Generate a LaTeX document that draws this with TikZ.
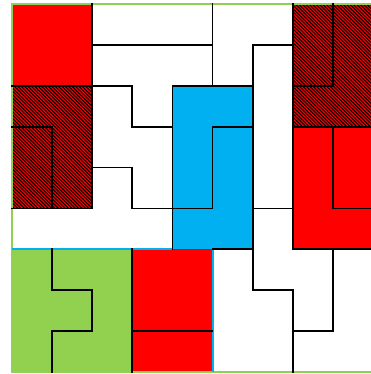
\documentclass[tikz,border=0pt]{standalone}
\usetikzlibrary{patterns.meta}
\definecolor{pred}{HTML}{FF0000}
\definecolor{pblue}{HTML}{00B0F0}
\definecolor{pgreen}{HTML}{92D050}
\tikzset{
  edge/.style={line width=1.8pt, black, line cap=rect},
  frame/.style={line width=2.2pt, pgreen},
  cyanedge/.style={line width=2pt, pblue},
  hatch/.style={pattern={Lines[angle=-45,distance=2.4pt,line width=1.1pt]}, pattern color=black}
}
\begin{document}
\begin{tikzpicture}
\useasboundingbox (0,0) rectangle (371pt,374pt);
\clip (0,0) rectangle (371pt,374pt);
\fill[white] (0,0) rectangle (371pt,374pt);
\begin{scope}[shift={(12pt,370pt)}, x=40.1pt, y=-40.9pt]
  % fills
  \fill[pred] (0,0) rectangle (2,2);
  \fill[pred] (7,3) rectangle (9,6);
  \fill[pred] (3,6) rectangle (5,9);
  \fill[pred] (0,2) rectangle (2,5);
  \fill[hatch] (0,2) rectangle (2,5);
  \fill[pred] (7,0) rectangle (9,3);
  \fill[hatch] (7,0) rectangle (9,3);
  \fill[pblue] (4,2) rectangle (6,6);
  \fill[pgreen] (0,6) rectangle (3,9);
  % coloured edges
  \draw[frame] (0,0) rectangle (9,9);
  \draw[cyanedge] (0,6) -- (4,6);
  \draw[cyanedge] (5,6) -- (5,9);
  % black edges
  \draw[edge] (2,0) -- (2,2) -- (0,2);
  \draw[edge] (2,1) -- (5,1);
  \draw[edge] (5,0) -- (5,2);
  \draw[edge] (6,1) -- (7,1);
  \draw[edge] (6,1) -- (6,7) -- (7,7) -- (7,9);
  \draw[edge] (7,0) -- (7,6);
  \draw[edge] (8,0) -- (8,2) -- (7,2);
  \draw[edge] (7,3) -- (9,3);
  \draw[edge] (8,3) -- (8,5) -- (9,5);
  \draw[edge] (7,6) -- (9,6);
  \draw[edge] (8,6) -- (8,8) -- (7,8);
  \draw[edge] (6,5) -- (7,5);
  \draw[edge] (4,2) -- (6,2);
  \draw[edge] (4,2) -- (4,6);
  \draw[edge] (5,6) -- (6,6);
  \draw[edge] (5,3) -- (6,3);
  \draw[edge] (5,3) -- (5,5) -- (3,5);
  \draw[edge] (2,2) -- (3,2) -- (3,3) -- (4,3);
  \draw[edge] (2,2) -- (2,5) -- (0,5);
  \draw[edge] (0,3) -- (1,3) -- (1,5);
  \draw[edge] (2,4) -- (3,4) -- (3,5);
  \draw[edge] (3,6) -- (3,9);
  \draw[edge] (3,8) -- (5,8);
  \draw[edge] (1,6) -- (1,7) -- (2,7) -- (2,8) -- (1,8) -- (1,9);
\end{scope}
\end{tikzpicture}
\end{document}
